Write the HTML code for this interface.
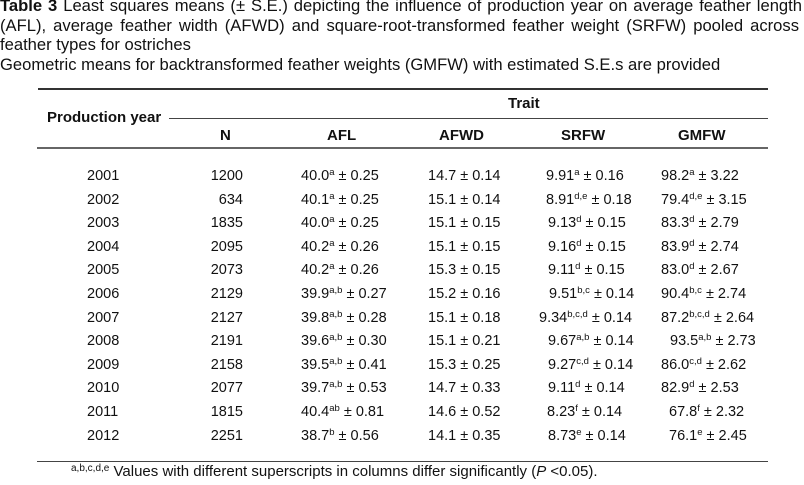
<!DOCTYPE html>
<html><head><meta charset="utf-8">
<style>
html,body{margin:0;padding:0;background:#fff;}
body{width:804px;height:485px;position:relative;overflow:hidden;font-family:"Liberation Sans",Arial,sans-serif;color:#111;}
.t{position:absolute;left:0;font-size:16.6px;line-height:19.7px;white-space:nowrap;}
.j{text-align:justify;text-align-last:justify;white-space:normal;}
.r{position:absolute;background:#3a3a3a;}
.c{position:absolute;font-size:14.5px;line-height:16px;white-space:pre;}
.h{position:absolute;font-size:15px;line-height:16px;font-weight:bold;white-space:pre;}
sup{font-size:9.5px;vertical-align:5px;line-height:0;}
</style></head><body>
<div class="t j" style="top:-4px;width:802px;word-spacing:-3px;"><b>Table 3</b> Least squares means (± S.E.) depicting the influence of production year on average feather length</div>
<div class="t j" style="top:15.7px;width:799px;word-spacing:-2px;">(AFL), average feather width (AFWD) and square-root-transformed feather weight (SRFW) pooled across</div>
<div class="t" style="top:35.4px;">feather types for ostriches</div>
<div class="t" style="top:55.1px;">Geometric means for backtransformed feather weights (GMFW) with estimated S.E.s are provided</div>

<div class="r" style="left:38px;top:88px;width:730px;height:1.5px;background:#333;"></div>
<div class="r" style="left:169px;top:117.5px;width:599px;height:1.5px;background:#444;"></div>
<div class="r" style="left:37px;top:146.5px;width:731px;height:2px;background:#666;"></div>
<div class="r" style="left:37px;top:460.5px;width:731px;height:1.5px;background:#444;"></div>

<div class="h" style="left:508px;top:96px;">Trait</div>
<div class="h" style="left:47px;top:110px;">Production year</div>
<div class="h" style="left:220px;top:128px;">N</div>
<div class="h" style="left:327px;top:128px;">AFL</div>
<div class="h" style="left:439px;top:128px;">AFWD</div>
<div class="h" style="left:561px;top:128px;">SRFW</div>
<div class="h" style="left:678px;top:128px;">GMFW</div>

<div class="c" style="left:87px;top:168px;">2001</div>
<div class="c" style="left:183px;top:168px;width:60px;text-align:right;">1200</div>
<div class="c" style="left:301px;top:168px;">40.0<sup>a</sup> ± 0.25</div>
<div class="c" style="left:428px;top:168px;">14.7 ± 0.14</div>
<div class="c" style="left:546px;top:168px;">9.91<sup>a</sup> ± 0.16</div>
<div class="c" style="left:661px;top:168px;">98.2<sup>a</sup> ± 3.22</div>

<div class="c" style="left:87px;top:191.6px;">2002</div>
<div class="c" style="left:183px;top:191.6px;width:60px;text-align:right;">634</div>
<div class="c" style="left:301px;top:191.6px;">40.1<sup>a</sup> ± 0.25</div>
<div class="c" style="left:428px;top:191.6px;">15.1 ± 0.14</div>
<div class="c" style="left:546px;top:191.6px;">8.91<sup>d,e</sup> ± 0.18</div>
<div class="c" style="left:661px;top:191.6px;">79.4<sup>d,e</sup> ± 3.15</div>

<div class="c" style="left:87px;top:215.2px;">2003</div>
<div class="c" style="left:183px;top:215.2px;width:60px;text-align:right;">1835</div>
<div class="c" style="left:301px;top:215.2px;">40.0<sup>a</sup> ± 0.25</div>
<div class="c" style="left:428px;top:215.2px;">15.1 ± 0.15</div>
<div class="c" style="left:548px;top:215.2px;">9.13<sup>d</sup> ± 0.15</div>
<div class="c" style="left:661px;top:215.2px;">83.3<sup>d</sup> ± 2.79</div>

<div class="c" style="left:87px;top:238.8px;">2004</div>
<div class="c" style="left:183px;top:238.8px;width:60px;text-align:right;">2095</div>
<div class="c" style="left:301px;top:238.8px;">40.2<sup>a</sup> ± 0.26</div>
<div class="c" style="left:428px;top:238.8px;">15.1 ± 0.15</div>
<div class="c" style="left:548px;top:238.8px;">9.16<sup>d</sup> ± 0.15</div>
<div class="c" style="left:661px;top:238.8px;">83.9<sup>d</sup> ± 2.74</div>

<div class="c" style="left:87px;top:262.4px;">2005</div>
<div class="c" style="left:183px;top:262.4px;width:60px;text-align:right;">2073</div>
<div class="c" style="left:301px;top:262.4px;">40.2<sup>a</sup> ± 0.26</div>
<div class="c" style="left:428px;top:262.4px;">15.3 ± 0.15</div>
<div class="c" style="left:548px;top:262.4px;">9.11<sup>d</sup> ± 0.15</div>
<div class="c" style="left:661px;top:262.4px;">83.0<sup>d</sup> ± 2.67</div>

<div class="c" style="left:87px;top:286px;">2006</div>
<div class="c" style="left:183px;top:286px;width:60px;text-align:right;">2129</div>
<div class="c" style="left:301px;top:286px;">39.9<sup>a,b</sup> ± 0.27</div>
<div class="c" style="left:428px;top:286px;">15.2 ± 0.16</div>
<div class="c" style="left:549px;top:286px;">9.51<sup>b,c</sup> ± 0.14</div>
<div class="c" style="left:661px;top:286px;">90.4<sup>b,c</sup> ± 2.74</div>

<div class="c" style="left:87px;top:309.6px;">2007</div>
<div class="c" style="left:183px;top:309.6px;width:60px;text-align:right;">2127</div>
<div class="c" style="left:301px;top:309.6px;">39.8<sup>a,b</sup> ± 0.28</div>
<div class="c" style="left:428px;top:309.6px;">15.1 ± 0.18</div>
<div class="c" style="left:539px;top:309.6px;">9.34<sup>b,c,d</sup> ± 0.14</div>
<div class="c" style="left:661px;top:309.6px;">87.2<sup>b,c,d</sup> ± 2.64</div>

<div class="c" style="left:87px;top:333.2px;">2008</div>
<div class="c" style="left:183px;top:333.2px;width:60px;text-align:right;">2191</div>
<div class="c" style="left:301px;top:333.2px;">39.6<sup>a,b</sup> ± 0.30</div>
<div class="c" style="left:428px;top:333.2px;">15.1 ± 0.21</div>
<div class="c" style="left:548px;top:333.2px;">9.67<sup>a,b</sup> ± 0.14</div>
<div class="c" style="left:670px;top:333.2px;">93.5<sup>a,b</sup> ± 2.73</div>

<div class="c" style="left:87px;top:356.8px;">2009</div>
<div class="c" style="left:183px;top:356.8px;width:60px;text-align:right;">2158</div>
<div class="c" style="left:301px;top:356.8px;">39.5<sup>a,b</sup> ± 0.41</div>
<div class="c" style="left:428px;top:356.8px;">15.3 ± 0.25</div>
<div class="c" style="left:548px;top:356.8px;">9.27<sup>c,d</sup> ± 0.14</div>
<div class="c" style="left:661px;top:356.8px;">86.0<sup>c,d</sup> ± 2.62</div>

<div class="c" style="left:87px;top:380.4px;">2010</div>
<div class="c" style="left:183px;top:380.4px;width:60px;text-align:right;">2077</div>
<div class="c" style="left:301px;top:380.4px;">39.7<sup>a,b</sup> ± 0.53</div>
<div class="c" style="left:428px;top:380.4px;">14.7 ± 0.33</div>
<div class="c" style="left:548px;top:380.4px;">9.11<sup>d</sup> ± 0.14</div>
<div class="c" style="left:661px;top:380.4px;">82.9<sup>d</sup> ± 2.53</div>

<div class="c" style="left:87px;top:404px;">2011</div>
<div class="c" style="left:183px;top:404px;width:60px;text-align:right;">1815</div>
<div class="c" style="left:301px;top:404px;">40.4<sup>ab</sup> ± 0.81</div>
<div class="c" style="left:428px;top:404px;">14.6 ± 0.52</div>
<div class="c" style="left:547px;top:404px;">8.23<sup>f</sup> ± 0.14</div>
<div class="c" style="left:669px;top:404px;">67.8<sup>f</sup> ± 2.32</div>

<div class="c" style="left:87px;top:427.6px;">2012</div>
<div class="c" style="left:183px;top:427.6px;width:60px;text-align:right;">2251</div>
<div class="c" style="left:301px;top:427.6px;">38.7<sup>b</sup> ± 0.56</div>
<div class="c" style="left:428px;top:427.6px;">14.1 ± 0.35</div>
<div class="c" style="left:548px;top:427.6px;">8.73<sup>e</sup> ± 0.14</div>
<div class="c" style="left:669px;top:427.6px;">76.1<sup>e</sup> ± 2.45</div>

<div class="c" style="left:71px;top:464px;font-size:15px;"><sup style="font-size:10px;vertical-align:5px;">a,b,c,d,e</sup> Values with different superscripts in columns differ significantly (<i>P</i> &lt;0.05).</div>
</body></html>
